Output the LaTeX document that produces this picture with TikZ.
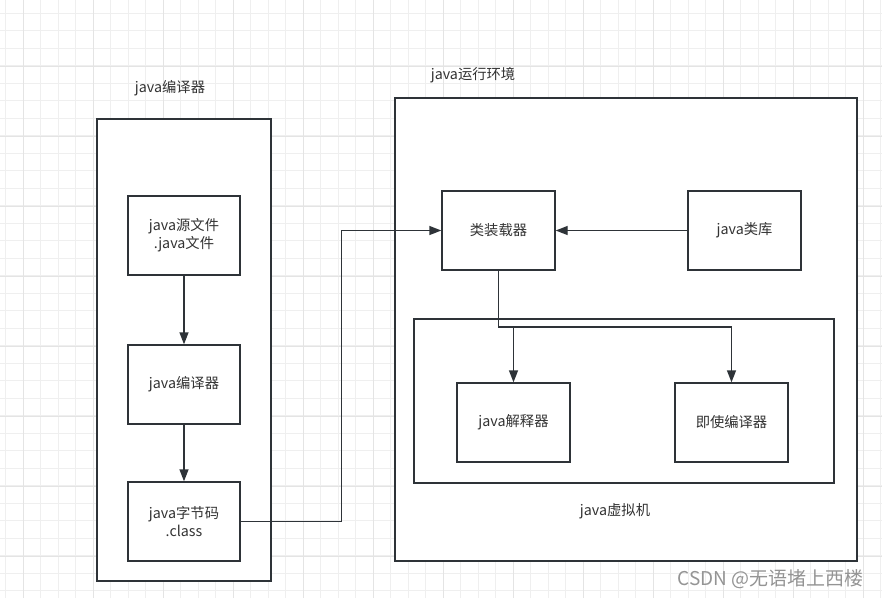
\documentclass[tikz,border=0pt]{standalone}
\usepackage{fontspec}
\setmainfont{Noto Sans CJK SC}
\usetikzlibrary{arrows.meta}

\definecolor{linec}{HTML}{2E3338}
\definecolor{textc}{HTML}{333333}
\definecolor{gridminor}{HTML}{EFEFEF}
\definecolor{gridmajor}{HTML}{E4E4E4}

\tikzset{
  procbox/.style={draw=linec, line width=1.4pt, fill=white, minimum width=112pt,
    minimum height=79pt, align=center, inner sep=0pt, text=textc,
    font=\fontsize{14.3}{18}\selectfont},
  framebox/.style={draw=linec, line width=1.4pt, fill=white, inner sep=0pt},
  caption/.style={text=textc, font=\fontsize{14.3}{18}\selectfont},
  flow/.style={draw=linec, line width=1.4pt, -{Triangle[length=12pt,width=9pt]}}
}

\begin{document}
\begin{tikzpicture}[x=1pt,y=-1pt]
  \useasboundingbox (0,0) rectangle (882,598);
  \fill[white] (0,0) rectangle (882,598);

  % Grid
  \foreach \i in {0,...,50}
    \draw[gridminor, line width=0.9pt] ({5.5+17.5*\i},0) -- ++(0,598);
  \foreach \j in {0,...,34}
    \draw[gridminor, line width=0.9pt] (0,{13+17.5*\j}) -- ++(882,0);
  \foreach \i in {0,...,12}
    \draw[gridmajor, line width=0.9pt] ({23+70*\i},0) -- ++(0,598);
  \foreach \j in {0,...,8}
    \draw[gridmajor, line width=0.9pt] (0,{-4+70*\j}) -- ++(882,0);

  % Frames
  \node[framebox, minimum width=174pt, minimum height=462pt] (compframe) at (184,350) {};
  \node[framebox, minimum width=462pt, minimum height=463pt] (jre) at (626,329.5) {};
  \node[framebox, minimum width=420pt, minimum height=164pt] (jvm) at (624,401) {};

  % Frame titles
  \node[caption] (comptitle) at (170,88) {java编译器};
  \node[caption] (jretitle) at (473,75) {java运行环境};
  \node[caption] (jvmtitle) at (615,511) {java虚拟机};

  % Compiler side
  \node[procbox] (src) at (184,235.5) {java源文件\\.java文件};
  \node[procbox] (comp) at (184,384.5) {java编译器};
  \node[procbox] (bytecode) at (184,521.5) {java字节码\\.class};

  % Runtime side
  \node[procbox, minimum width=113pt] (loader) at (498.5,230.5) {类装载器};
  \node[procbox, minimum width=113pt] (lib) at (744.5,230.5) {java类库};
  \node[procbox, minimum width=113pt] (interp) at (513.5,422.5) {java解释器};
  \node[procbox, minimum width=113pt] (jit) at (731.5,422.5) {即使编译器};

  % Arrows
  \draw[flow] (src) -- (comp);
  \draw[flow] (comp) -- (bytecode);
  \draw[flow] (bytecode.east) -- ++(101,0) |- (loader.west);
  \draw[flow] (lib) -- (loader);
  \coordinate (split) at (498.5,327);
  \draw[flow] (loader.south) -- (split) -| (interp.north);
  \draw[flow] (split) -| (jit.north);

  % Watermark
  \node[text=black!42, font=\fontsize{19}{22}\selectfont, anchor=east] (mark) at (867,579) {CSDN @无语堵上西楼};
\end{tikzpicture}
\end{document}
